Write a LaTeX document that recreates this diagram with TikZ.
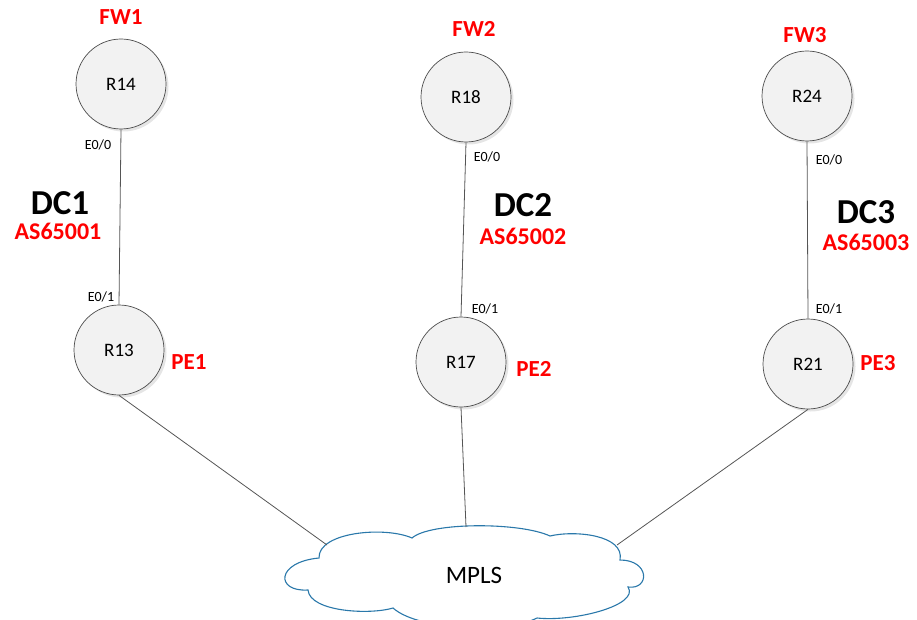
\documentclass[tikz,border=0pt]{standalone}
\usepackage{fontspec}
\setmainfont{Carlito}
\usetikzlibrary{shadows}
\definecolor{netRed}{HTML}{FF0000}
\definecolor{netLine}{HTML}{555555}
\definecolor{netCloud}{HTML}{2A78AA}
\definecolor{netFill}{HTML}{F2F2F2}
\tikzset{
  net router/.style={circle, draw=black!70, fill=netFill, line width=0.7pt, minimum size=90pt, inner sep=0pt,
    drop shadow={shadow xshift=2.5pt, shadow yshift=-2.5pt, fill=black, opacity=0.10},
    font=\fontsize{19}{21}\selectfont},
  net link/.style={draw=netLine, line width=0.8pt},
  net cloud/.style={draw=netCloud, line width=1.1pt, fill=white},
  net port/.style={font=\fontsize{14}{16}\selectfont, text=black},
  net role/.style={font=\fontsize{23}{26}\bfseries\selectfont, text=netRed},
  net dc/.style={font=\fontsize{35}{38}\bfseries\selectfont, text=black, inner sep=0pt},
  net as/.style={font=\fontsize{24}{27}\bfseries\selectfont, text=netRed, inner sep=0pt},
}

\begin{document}
\begin{tikzpicture}[x=1pt,y=-1pt]
  \useasboundingbox (0,0) rectangle (917,620);

  % routers
  \foreach \name/\x/\y/\txt in {r14/121/84/R14, r13/119/350/R13, r18/466/97/R18,
                                r17/461/362/R17, r24/807/96/R24, r21/808/364/R21} {
    \node[net router] (\name) at (\x,\y) {\txt};
  }

  % provider cloud
  \draw[net cloud] (308,590)
    .. controls (275,592) and (276,562) .. (319,558)
    .. controls (318,532) and (385,526) .. (412,538)
    .. controls (430,522) and (520,522) .. (550,536)
    .. controls (575,530) and (625,535) .. (620,560)
    .. controls (650,560) and (650,590) .. (628,587)
    .. controls (640,605) and (575,622) .. (537,618)
    .. controls (510,632) and (420,632) .. (393,608)
    .. controls (370,615) and (310,612) .. (308,590) -- cycle;
  \node[font=\fontsize{25}{28}\selectfont] (mpls) at (474,575) {MPLS};

  % links inside each dc
  \draw[net link] (r14.south) -- (r13.north);
  \draw[net link] (r18.south) -- (r17.north);
  \draw[net link] (r24.south) -- (r21.north);

  % links to the provider cloud
  \coordinate (m1) at (327,545);
  \coordinate (m2) at (466,527);
  \coordinate (m3) at (617,545);
  \draw[net link] (r13.south) -- (m1);
  \draw[net link] (r17.south) -- (m2);
  \draw[net link] (r21.south) -- (m3);

  % port names
  \node[net port] (p1a) at (98,145) {E0/0};
  \node[net port] (p1b) at (101,297) {E0/1};
  \node[net port] (p2a) at (487,157) {E0/0};
  \node[net port] (p2b) at (485,309) {E0/1};
  \node[net port] (p3a) at (829,160) {E0/0};
  \node[net port] (p3b) at (829,309) {E0/1};

  % roles
  \node[net role] (fw1) at (121,17) {FW1};
  \node[net role] (fw2) at (474,29) {FW2};
  \node[net role] (fw3) at (805,35) {FW3};
  \node[net role] (pe1) at (189,362) {PE1};
  \node[net role] (pe2) at (534,369) {PE2};
  \node[net role] (pe3) at (878,363) {PE3};

  % data centres
  \node[net dc] (dc1) at (60,203) {DC1};
  \node[net as] (as1) at (58,231) {AS65001};
  \node[net dc] (dc2) at (523,205) {DC2};
  \node[net as] (as2) at (523,236) {AS65002};
  \node[net dc] (dc3) at (866,212) {DC3};
  \node[net as] (as3) at (866,242) {AS65003};
\end{tikzpicture}
\end{document}
